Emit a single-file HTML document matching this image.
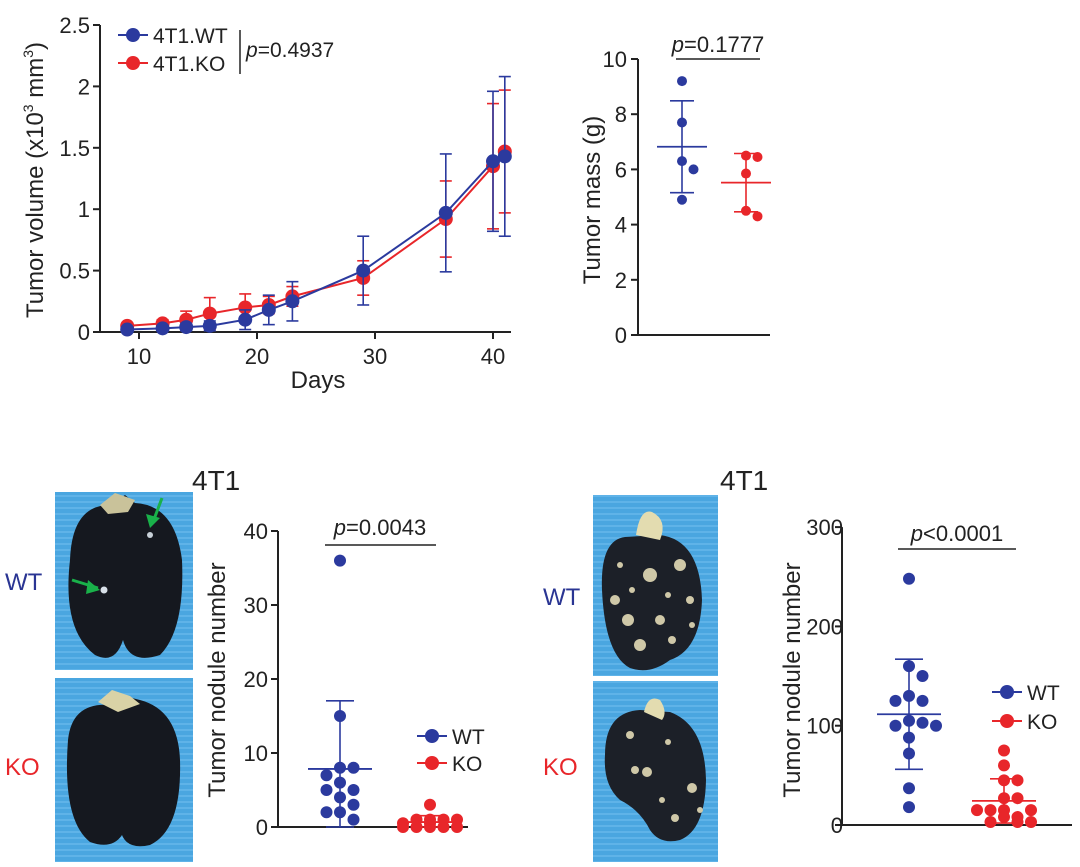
<!DOCTYPE html>
<html><head><meta charset="utf-8"><style>
html,body{margin:0;padding:0;background:#fff;}
svg{display:block;font-family:"Liberation Sans",Arial,sans-serif;}
</style></head><body>
<svg id="fig" width="1080" height="867" viewBox="0 0 1080 867">
<defs>
<pattern id="wat" width="40" height="6" patternUnits="userSpaceOnUse"><rect width="40" height="6" fill="#4aa6e0"/><rect y="3" width="40" height="2" fill="#6cbcec" opacity="0.6"/></pattern>
</defs>
<g>
<rect x="55" y="492" width="138" height="178" fill="url(#wat)"/>
<path d="M70 560 Q72 505 110 505 L125 495 L135 503 Q175 505 182 560 Q185 630 160 655 Q130 665 123 640 Q115 665 95 655 Q62 630 70 560Z" fill="#15181f"/>
<path d="M100 505 L115 493 L135 500 L128 512 L108 514Z" fill="#c9c29a"/>
<circle cx="104" cy="590" r="3.5" fill="#d8e0e8"/><circle cx="150" cy="535" r="3" fill="#c8d0d8"/>
<path d="M72 580 L98 588" stroke="#19b14a" stroke-width="3"/><path d="M100 590 L88 580 L86 594Z" fill="#19b14a"/>
<path d="M162 498 L153 522" stroke="#19b14a" stroke-width="3"/><path d="M150 528 L146 514 L160 518Z" fill="#19b14a"/>
</g>
<g>
<rect x="55" y="678" width="138" height="184" fill="url(#wat)"/>
<path d="M68 740 Q72 702 110 705 L120 695 L140 700 Q178 710 180 760 Q182 830 150 845 Q128 850 122 835 Q112 850 90 842 Q62 820 68 740Z" fill="#15181f"/>
<path d="M98 702 L112 690 L130 696 L140 704 L118 712Z" fill="#d9d2a6"/>
</g>
<text x="5" y="590" font-size="24" fill="#2a3593">WT</text>
<text x="5" y="775" font-size="24" fill="#e8262a">KO</text>
<text x="192" y="490" font-size="28" fill="#222">4T1</text>
<g>
<rect x="593" y="495" width="125" height="181" fill="url(#wat)"/>
<path d="M602 590 Q600 540 625 537 L660 535 Q700 540 702 600 Q700 650 670 660 Q650 675 630 668 Q605 655 602 590Z" fill="#1c2028"/>
<path d="M636 535 Q640 508 652 512 Q668 520 660 540Z" fill="#e3dcb0"/>
<g fill="#cfc8a8"><circle cx="615" cy="600" r="5"/><circle cx="628" cy="620" r="6"/><circle cx="650" cy="575" r="7"/><circle cx="680" cy="565" r="6"/><circle cx="690" cy="600" r="4"/><circle cx="660" cy="620" r="5"/><circle cx="640" cy="645" r="6"/><circle cx="672" cy="640" r="4"/><circle cx="620" cy="565" r="3"/><circle cx="692" cy="625" r="3"/><circle cx="632" cy="590" r="3"/><circle cx="668" cy="595" r="3"/></g>
</g>
<g>
<rect x="593" y="681" width="125" height="181" fill="url(#wat)"/>
<path d="M605 755 Q605 712 640 710 L670 712 Q705 725 706 780 Q705 830 680 840 Q660 845 650 830 Q640 810 620 800 Q603 785 605 755Z" fill="#1c2028"/>
<path d="M644 712 Q648 694 660 700 Q668 712 662 720Z" fill="#e3dcb0"/>
<g fill="#cfc8a8"><circle cx="630" cy="735" r="4"/><circle cx="635" cy="770" r="4"/><circle cx="647" cy="772" r="5"/><circle cx="692" cy="788" r="5"/><circle cx="662" cy="800" r="3"/><circle cx="675" cy="818" r="4"/><circle cx="700" cy="810" r="3"/><circle cx="668" cy="742" r="3"/></g>
</g>
<text x="543" y="605" font-size="24" fill="#2a3593">WT</text>
<text x="543" y="775" font-size="24" fill="#e8262a">KO</text>
<text x="720" y="490" font-size="28" fill="#222">4T1</text>
<g id="charts"></g>
</svg>
<script>
const days = [9,12,14,16,19,21,23,29,36,40,41];
const wtVol = [0.02,0.03,0.04,0.05,0.10,0.18,0.25,0.50,0.97,1.39,1.43];
const wtErr = [0.02,0.02,0.03,0.04,0.08,0.12,0.16,0.28,0.48,0.57,0.65];
const koVol = [0.05,0.07,0.10,0.15,0.20,0.22,0.29,0.44,0.92,1.35,1.47];
const koErr = [0.02,0.03,0.07,0.13,0.11,0.07,0.08,0.14,0.31,0.51,0.50];
const volTicks = ["0","0.5","1","1.5","2","2.5"];
const dayTicks = [10,20,30,40];
const massWT = [9.2,7.7,6.3,6.0,4.9];
const massKO = [6.5,6.45,5.85,4.5,4.3];
const massTicks = [0,2,4,6,8,10];
const nodWT = [36,15,8,8,7,6,5,5,4,3,2,2,1];
const nodKO = [3,1,1,1,1,0.5,0.5,0,0,0,0,0];
const nodTicks = [0,10,20,30,40];
const nod2WT = [248,160,150,130,125,125,105,103,100,100,88,72,37,18];
const nod2KO = [75,60,45,45,27,27,15,15,15,15,8,8,3,3,3];
const nod2Ticks = [0,100,200,300];

const BLUE="#2b3a9e", RED="#e8262a", INK="#222";
const NS="http://www.w3.org/2000/svg";
const root=document.getElementById('charts');
function mk(tag,attrs,parent){const e=document.createElementNS(NS,tag);for(const k in attrs)e.setAttribute(k,attrs[k]);(parent||root).appendChild(e);return e;}
function ln(x1,y1,x2,y2,c,w,name,p){const e=mk('line',{x1,y1,x2,y2,stroke:c,'stroke-width':w},p);


return e;}
function tx(x,y,s,size,anchor,name,p,fill){const e=mk('text',{x,y,'font-size':size,'text-anchor':anchor,fill:fill||INK},p);e.textContent=s;


return e;}
function dot(x,y,r,c,name,p){const e=mk('circle',{cx:x,cy:y,r,fill:c},p);


return e;}
function grp(name){const g=mk('g',{});


return g;}
const mean=a=>a.reduce((s,v)=>s+v,0)/a.length;
const sd=a=>{const m=mean(a);return Math.sqrt(a.reduce((s,v)=>s+(v-m)*(v-m),0)/(a.length-1));};
function swarm(vals,cx,ys,r,name,color,g){
  const placed=[];const step=2*r+1.5;
  vals.forEach((v,i)=>{const y=ys(v);let best=cx,bestOv=1e9;
    for(let k=0;k<5;k++){const off=(k===0?0:(k%2?1:-1)*Math.ceil(k/2))*step;const x=cx+off;
      const ov=placed.filter(p=>Math.hypot(p[0]-x,p[1]-y)<2*r+0.5).length;
      if(ov<bestOv){bestOv=ov;best=x;} if(ov===0)break;}
    placed.push([best,y]);dot(best,y,r,color,name+'-'+i,g);});
}
function errbar(cx,m,lo,hi,ys,halfMean,halfCap,color,name,g){
  ln(cx,ys(lo),cx,ys(hi),color,1.6,name+'-whisker',g);
  ln(cx-halfMean,ys(m),cx+halfMean,ys(m),color,1.8,name+'-mean',g);
  ln(cx-halfCap,ys(hi),cx+halfCap,ys(hi),color,1.6,name+'-cap-top',g);
  ln(cx-halfCap,ys(lo),cx+halfCap,ys(lo),color,1.6,name+'-cap-bottom',g);
}

(function(){
const g=grp('tumor-volume-chart');
const xs=d=>139+(d-10)*11.8, ys=v=>332-v*122.8;
ln(100,ys(0),511,ys(0),INK,2,'x-axis',g);
ln(100,ys(0),100,ys(2.5),INK,2,'y-axis',g);
volTicks.forEach((t,i)=>{const y=ys(parseFloat(t));ln(93,y,100,y,INK,2,'y-tick-'+t,g);tx(90,y+8,t,22,'end','y-tick-label-'+t,g);});
dayTicks.forEach(d=>{ln(xs(d),ys(0),xs(d),ys(0)+7,INK,2,'x-tick-'+d,g);tx(xs(d),ys(0)+32,String(d),22,'middle','x-tick-label-'+d,g);});
tx(318,388,'Days',24,'middle','x-axis-title',g);
const yt=tx(0,0,'',24,'middle','y-axis-title',g);yt.setAttribute('transform','translate(43,180) rotate(-90)');
yt.innerHTML='Tumor volume (x10<tspan font-size="14" dy="-10">3</tspan><tspan dy="10"> mm</tspan><tspan font-size="14" dy="-10">3</tspan><tspan dy="10">)</tspan>';
[[koVol,koErr,RED,'ko'],[wtVol,wtErr,BLUE,'wt']].forEach(([vals,errs,c,n])=>{
  const pts=days.map((d,i)=>xs(d)+','+ys(vals[i])).join(' ');
  const pl=mk('polyline',{points:pts,fill:'none',stroke:c,'stroke-width':2},g);
  
  
  days.forEach((d,i)=>{const x=xs(d);
    ln(x,ys(vals[i]-errs[i]),x,ys(vals[i]+errs[i]),c,1.6,n+'-errorbar-'+d,g);
    ln(x-6,ys(vals[i]+errs[i]),x+6,ys(vals[i]+errs[i]),c,1.6,n+'-errcap-top-'+d,g);
    ln(x-6,ys(Math.max(0,vals[i]-errs[i])),x+6,ys(Math.max(0,vals[i]-errs[i])),c,1.6,n+'-errcap-bottom-'+d,g);
    dot(x,ys(vals[i]),7,c,n+'-point-day-'+d,g);});
});
ln(118,35,148,35,BLUE,2,'legend-wt-line',g);dot(133,35,7,BLUE,'legend-wt-marker',g);tx(153,43,'4T1.WT',21,'start','legend-wt-label',g);
ln(118,63,148,63,RED,2,'legend-ko-line',g);dot(133,63,7,RED,'legend-ko-marker',g);tx(153,71,'4T1.KO',21,'start','legend-ko-label',g);
ln(240,30,240,74,INK,1.5,'legend-bracket',g);
const p=tx(246,57,'',21,'start','p-value-volume',g);p.innerHTML='<tspan font-style="italic">p</tspan>=0.4937';
})();

(function(){
const g=grp('tumor-mass-chart');
const ys=v=>335-v*27.6;
ln(638,ys(0),770,ys(0),INK,2,'x-axis',g);ln(638,ys(0),638,ys(10),INK,2,'y-axis',g);
massTicks.forEach(t=>{ln(631,ys(t),638,ys(t),INK,2,'y-tick-'+t,g);tx(627,ys(t)+8,String(t),22,'end','y-tick-label-'+t,g);});
const yt=tx(0,0,'Tumor mass (g)',24,'middle','y-axis-title',g);yt.setAttribute('transform','translate(600,200) rotate(-90)');
[[massWT,682,BLUE,'wt'],[massKO,746,RED,'ko']].forEach(([a,cx,c,n])=>{const m=mean(a),s=sd(a);
  errbar(cx,m,m-s,m+s,ys,25,12,c,n+'-mass',g);swarm(a,cx,ys,5,n+'-mass-point',c,g);});
ln(676,59,760,59,INK,1.5,'significance-line',g);
const p=tx(718,52,'',22,'middle','p-value-mass',g);p.innerHTML='<tspan font-style="italic">p</tspan>=0.1777';
})();

(function(){
const g=grp('nodule-chart-left');
const ys=v=>827-v*7.4;
ln(278,ys(0),468,ys(0),INK,2,'x-axis',g);ln(278,ys(0),278,ys(40),INK,2,'y-axis',g);
nodTicks.forEach(t=>{ln(271,ys(t),278,ys(t),INK,2,'y-tick-'+t,g);tx(268,ys(t)+8,String(t),22,'end','y-tick-label-'+t,g);});
const yt=tx(0,0,'Tumor nodule number',24,'middle','y-axis-title',g);yt.setAttribute('transform','translate(225,680) rotate(-90)');
[[nodWT,340,BLUE,'wt'],[nodKO,430,RED,'ko']].forEach(([a,cx,c,n])=>{const m=mean(a),s=sd(a);
  errbar(cx,m,Math.max(0,m-s),m+s,ys,32,14,c,n+'-nodule',g);swarm(a,cx,ys,6,n+'-nodule-point',c,g);});
ln(325,545,436,545,INK,1.5,'significance-line',g);
const p=tx(380,535,'',22,'middle','p-value-nodule-left',g);p.innerHTML='<tspan font-style="italic">p</tspan>=0.0043';
ln(417,736,447,736,BLUE,2,'legend-wt-line',g);dot(432,736,7,BLUE,'legend-wt-marker',g);tx(452,744,'WT',21,'start','legend-wt-label',g);
ln(417,763,447,763,RED,2,'legend-ko-line',g);dot(432,763,7,RED,'legend-ko-marker',g);tx(452,771,'KO',21,'start','legend-ko-label',g);
})();

(function(){
const g=grp('nodule-chart-right');
const ys=v=>825-v*0.993;
ln(842,ys(0),1072,ys(0),INK,2,'x-axis',g);ln(842,ys(0),842,ys(300),INK,2,'y-axis',g);
nod2Ticks.forEach(t=>{ln(835,ys(t),842,ys(t),INK,2,'y-tick-'+t,g);tx(843,ys(t)+8,String(t),22,'end','y-tick-label-'+t,g);});
const yt=tx(0,0,'Tumor nodule number',24,'middle','y-axis-title',g);yt.setAttribute('transform','translate(800,680) rotate(-90)');
[[nod2WT,909,BLUE,'wt'],[nod2KO,1004,RED,'ko']].forEach(([a,cx,c,n])=>{const m=mean(a),s=sd(a);
  errbar(cx,m,Math.max(0,m-s),m+s,ys,32,14,c,n+'-nodule',g);swarm(a,cx,ys,6,n+'-nodule-point',c,g);});
ln(898,549,1016,549,INK,1.5,'significance-line',g);
const p=tx(957,541,'',22,'middle','p-value-nodule-right',g);p.innerHTML='<tspan font-style="italic">p</tspan>&lt;0.0001';
ln(992,692,1022,692,BLUE,2,'legend-wt-line',g);dot(1007,692,7,BLUE,'legend-wt-marker',g);tx(1027,700,'WT',21,'start','legend-wt-label',g);
ln(992,721,1022,721,RED,2,'legend-ko-line',g);dot(1007,721,7,RED,'legend-ko-marker',g);tx(1027,729,'KO',21,'start','legend-ko-label',g);
})();
</script>
</body></html>
